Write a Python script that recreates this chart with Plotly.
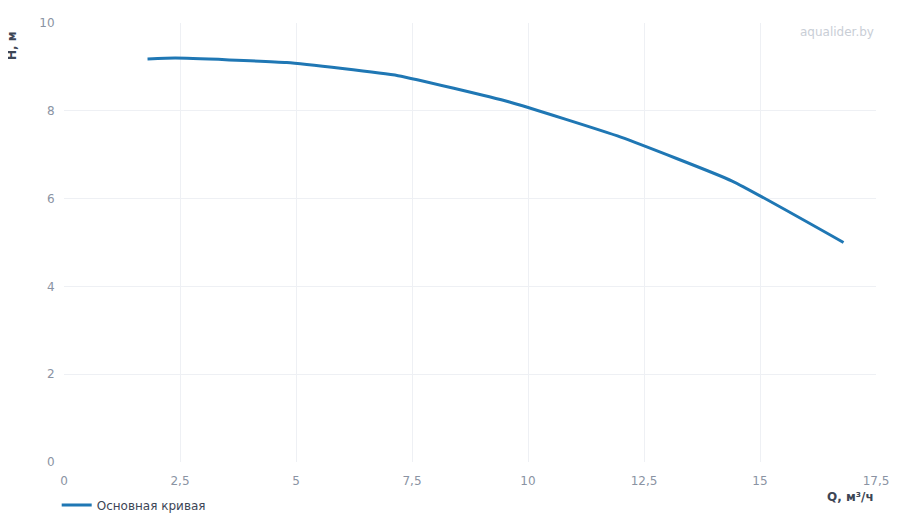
import plotly.graph_objects as go

# рабочая кривая насоса
q_values = [1.8, 2.4, 4.8, 7.2, 9.6, 12.0, 14.4, 16.8]
h_values = [9.18, 9.2, 9.1, 8.8, 8.2, 7.4, 6.4, 5.0]

x_ticks = [0, 2.5, 5, 7.5, 10, 12.5, 15, 17.5]
x_tick_labels = ["0", "2,5", "5", "7,5", "10", "12,5", "15", "17,5"]
y_ticks = [0, 2, 4, 6, 8, 10]

fig = go.Figure()
fig.add_trace(go.Scatter(
    x=q_values, y=h_values,
    mode='lines',
    name='Основная кривая',
    line=dict(color='#1f77b4', width=3, shape='spline', smoothing=0.4)
))

# подписи осей и водяной знак
fig.add_annotation(text="<b>H, м</b>", xref="paper", yref="paper", x=-0.064, y=0.985,
                   xanchor="center", yanchor="top", textangle=-90, showarrow=False,
                   font=dict(size=12, color="#3d4656"))
fig.add_annotation(text="<b>Q, м³/ч</b>", xref="paper", yref="paper", x=1.0, y=-0.06,
                   xanchor="right", yanchor="top", showarrow=False,
                   font=dict(size=12, color="#3d4656"))
fig.add_annotation(text="aqualider.by", xref="paper", yref="paper", x=1.0, y=1.0,
                   xanchor="right", yanchor="top", showarrow=False,
                   font=dict(size=12, color="#c9ced6"))

# body margin 8px -> поля сдвинуты
fig.update_layout(
    width=900, height=520,
    margin=dict(l=56, r=32, t=15, b=66),
    template='plotly_white',
    font=dict(family="DejaVu Sans", size=12, color="#8a93a3"),
    showlegend=True,
    legend=dict(orientation='h', x=-0.009, y=0.072, yref='container',
                xanchor='left', yanchor='top',
                font=dict(size=12, color="#3d4656")),
    xaxis=dict(range=[0, 17.5], tickvals=x_ticks, ticktext=x_tick_labels,
               showgrid=True, gridcolor="#eef0f4", zeroline=False, automargin=False,
               showline=False, ticks="outside", ticklen=8, tickcolor="rgba(0,0,0,0)"),
    yaxis=dict(range=[0, 10], tickvals=y_ticks, showgrid=True, gridcolor="#eef0f4",
               zeroline=False, showline=False, automargin=False,
               ticks="outside", ticklen=6, tickcolor="rgba(0,0,0,0)"),
)

fig.write_html("out.html")
